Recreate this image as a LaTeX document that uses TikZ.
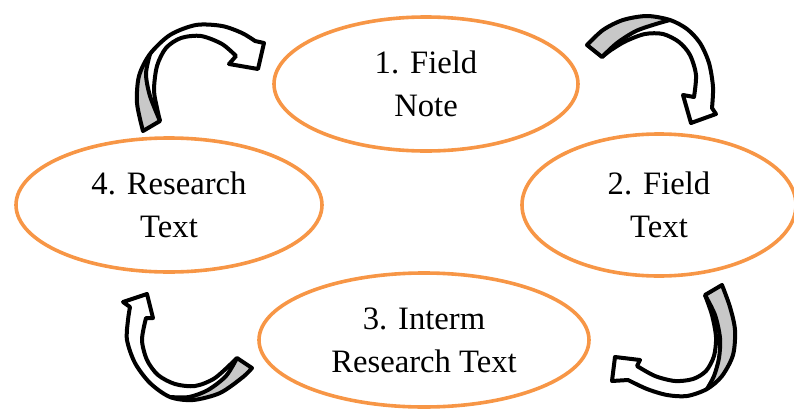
\documentclass[tikz,border=0pt]{standalone}
\usepackage{fontspec}
\setmainfont{Liberation Serif}
\usetikzlibrary{shapes.geometric}
\definecolor{stageorange}{HTML}{F79646}
\definecolor{backgray}{HTML}{C8C8C8}
\tikzset{
  stage/.style={ellipse, draw=stageorange, line width=2.7pt, align=center,
    inner sep=0pt, font=\fontsize{24.5}{32.3}\selectfont},
  arrowline/.style={line width=3pt, line join=round},
}
% #1 outer edge, #2 head, #3 inner edge, #4 outer edge of the back part, #5 its inner edge
\newcommand\cyclearrow[5]{%
  \fill[white] plot[smooth] coordinates {#1} #2 -- plot[smooth] coordinates {#3} -- cycle;
  \fill[backgray] plot[smooth] coordinates {#4} -- plot[smooth] coordinates {#5} -- cycle;
  \draw[arrowline] plot[smooth] coordinates {#1} #2 -- plot[smooth] coordinates {#3} -- cycle;
  \draw[arrowline] plot[smooth] coordinates {#5};
}
\begin{document}
\begin{tikzpicture}[x=0.75pt, y=-0.75pt]
  \useasboundingbox (0,0) rectangle (794,411);
  % stages
  \node[stage, minimum width=228pt, minimum height=100.5pt] (note) at (426,84) {1. Field\\Note};
  \node[stage, minimum width=205.5pt, minimum height=106.5pt] (fieldtext) at (659,205) {2. Field\\Text};
  \node[stage, minimum width=247.5pt, minimum height=100.5pt] (interm) at (424,340) {3. Interm\\Research Text};
  \node[stage, minimum width=229.5pt, minimum height=100.5pt] (research) at (169,205) {4. Research\\Text};
  % curved arrows between the stages
  \cyclearrow{(143,131) (137,103) (139,76) (150,54) (170,35) (196,25) (222,26) (242,33) (255,41)}
    {-- (264,43) -- (258,69) -- (229,64) -- (236,56)}
    {(236,56) (222,44) (201,36) (181,38) (166,48) (157,66) (154,90) (157,108) (160,121)}
    {(143,131) (137,103) (139,76) (150,54)}
    {(150,54) (146,74) (150,96) (160,121)}
  \cyclearrow{(587,45) (603,30) (623,20) (647,16) (670,20) (687,29) (700,43) (709,63) (713,87) (712,108)}
    {-- (716,114) -- (691,123) -- (683,95) -- (694,97)}
    {(694,97) (696,75) (690,55) (679,42) (663,34) (645,34) (626,41) (611,50) (602,57)}
    {(587,45) (603,30) (623,20) (647,16) (670,20)}
    {(670,20) (656,24) (636,31) (617,43) (602,57)}
  \cyclearrow{(722,285) (730,307) (735,330) (733,355) (722,376) (707,389) (687,396) (667,395) (647,389) (628,380)}
    {-- (612,381) -- (615,357) -- (640,360) -- (637,366)}
    {(637,366) (655,376) (675,381) (693,379) (706,371) (714,356) (716,337) (712,315) (705,295)}
    {(722,285) (730,307) (735,330) (733,355) (722,376) (707,389)}
    {(707,389) (714,376) (719,358) (720,338) (715,315) (705,295)}
  \cyclearrow{(252,368) (243,377) (220,393) (193,400) (170,397) (150,383) (135,363) (127,340) (128,320) (130,307)}
    {-- (123,302) -- (147,294) -- (153,318) -- (146,318)}
    {(146,318) (142,340) (147,360) (158,375) (175,384) (195,386) (215,378) (237,358)}
    {(252,368) (243,377) (220,393) (193,400) (170,397)}
    {(170,397) (189,397) (208,390) (226,376) (237,358)}
\end{tikzpicture}
\end{document}
